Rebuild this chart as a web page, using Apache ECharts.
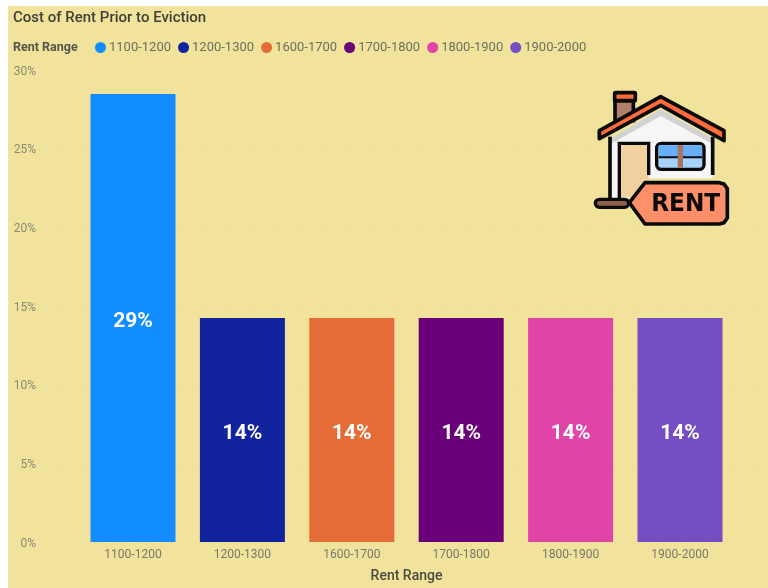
<!DOCTYPE html>
<html><head><meta charset="utf-8">
<style>html,body{margin:0;padding:0;background:#fff}#c{width:768px;height:588px}</style>
<script src="https://cdn.jsdelivr.net/npm/echarts@6/dist/echarts.min.js"></script>
</head><body><div id="c"></div>
<script>
const categories = ['1100-1200','1200-1300','1600-1700','1700-1800','1800-1900','1900-2000'];
const values = [28.57,14.29,14.29,14.29,14.29,14.29];
const colors = ['#118DFF','#12239E','#E66C37','#6B007B','#E044A7','#744EC2'];
const yTicks = [0,5,10,15,20,25,30];

const FONT = 'Roboto';
const BLK = '#0a0a0a';
const series = categories.map((c,i)=>({
  name:c, type:'bar', stack:'all', xAxisIndex:1, yAxisIndex:1, barWidth:85,
  itemStyle:{color:colors[i]},
  data:categories.map((_,j)=> j===i ? values[i] : null),
  label:{show:true, position:'inside', color:'#fff', fontFamily:FONT, fontSize:21, fontWeight:700,
    formatter:p=>Math.round(p.value)+'%', offset:[0,4]}
}));

const iconParts = [
    {type:'rect', shape:{x:135,y:92,width:55,height:60}, style:{fill:'#b0806a',stroke:BLK,lineWidth:11}},
    {type:'rect', shape:{x:134,y:68,width:62,height:24,r:3}, style:{fill:'#ff6b3d',stroke:BLK,lineWidth:11}},
    {type:'polygon', shape:{points:[[122,205],[272,118],[428,205],[428,325],[235,325],[235,385],[122,385]]}, style:{fill:'#f6f6f6'}},
    {type:'polygon', shape:{points:[[122,205],[272,118],[428,205],[428,222],[272,138],[122,222]]}, style:{fill:'#d2d2d2'}},
    {type:'rect', shape:{x:148,y:222,width:88,height:160}, style:{fill:'#f2cf9f'}},
    {type:'polyline', shape:{points:[[120,200],[120,385]]}, style:{stroke:BLK,lineWidth:11,fill:'none'}},
    {type:'polyline', shape:{points:[[428,200],[428,315]]}, style:{stroke:BLK,lineWidth:11,fill:'none'}},
    {type:'polyline', shape:{points:[[148,385],[148,220],[236,220],[236,315]]}, style:{stroke:BLK,lineWidth:10,fill:'none'}},
    {type:'rect', shape:{x:260,y:220,width:142,height:78,r:14}, style:{fill:'#a5d3fb',stroke:BLK,lineWidth:10}},
    {type:'rect', shape:{x:266,y:226,width:130,height:34}, style:{fill:'#66aef5'}},
    {type:'rect', shape:{x:266,y:259,width:130,height:6}, style:{fill:BLK}},
    {type:'rect', shape:{x:323,y:225,width:16,height:68}, style:{fill:'#a87660'}},
    {type:'polygon', shape:{points:[[88,182],[272,80],[462,182],[462,212],[272,106],[88,206]]}, style:{fill:'#ff6b3d',stroke:BLK,lineWidth:11,lineJoin:'round'}},
    {type:'rect', shape:{x:76,y:388,width:100,height:24,r:12}, style:{fill:'#8f5f4c',stroke:BLK,lineWidth:10}},
    {type:'polygon', shape:{points:[[178,398],[225,338],[448,338],[462,342],[472,356],[472,444],[462,458],[448,462],[225,462]]}, style:{fill:'#ff8f68',stroke:BLK,lineWidth:11,lineJoin:'round'}},
    {type:'text', x:347, y:404, scaleX:0.94, style:{text:'RENT', fill:BLK, font:'bold 74px "DejaVu Sans"', align:'center', verticalAlign:'middle'}}
];
iconParts.forEach(p=>{p.z=10;});
const icon = {type:'group', x:570, y:70, scaleX:1/3, scaleY:1/3, silent:true, children:iconParts};

const chart = echarts.init(document.getElementById('c'), null, {renderer:'canvas'});
chart.setOption({
  animation:false,
  backgroundColor:'#fff',
  textStyle:{fontFamily:FONT},
  title:{text:'Cost of Rent Prior to Eviction', left:8, top:6,
    textStyle:{fontFamily:FONT, fontSize:15, fontWeight:500, color:'#3f3f36'}},
  legend:{
    data:categories, left:90, top:36, icon:'circle', itemWidth:11, itemHeight:11,
    itemGap:7, selectedMode:false,
    textStyle:{fontFamily:FONT, fontSize:13, color:'#6e6e60', padding:[0,0,0,-2]}
  },
  grid:[
    {left:45, right:0, top:71.5, height:472},
    {left:78.3, width:656.4, top:71.5, height:472}
  ],
  xAxis:[
    {gridIndex:0, type:'category', show:false, data:['']},
    {gridIndex:1, type:'category', data:categories,
      axisLine:{show:false}, axisTick:{show:false},
      axisLabel:{color:'#77776a', fontSize:12, fontFamily:FONT, margin:7, interval:0},
      name:'Rent Range', nameLocation:'middle', nameGap:27,
      nameTextStyle:{color:'#4a4a40', fontSize:14, fontWeight:500, fontFamily:FONT}}
  ],
  yAxis:[
    {gridIndex:0, type:'value', min:0, max:30, interval:5,
      axisLine:{show:false}, axisTick:{show:false},
      axisLabel:{color:'#8a8a72', fontSize:12, fontFamily:FONT, margin:9, padding:[7,0,0,0],
        formatter:v=>yTicks.includes(v)? v+'%':''},
      splitLine:{show:true, lineStyle:{color:'#e2d8a0', type:[1,5], width:1.5}}},
    {gridIndex:1, type:'value', min:0, max:30, interval:5, show:false, splitLine:{show:false}}
  ],
  series:series,
  graphic:[
    {type:'rect', z:-10, silent:true, shape:{x:8,y:6,width:760,height:582}, style:{fill:'#F1E39C'}},
    {type:'text', x:13, y:41, silent:true, style:{text:'Rent Range', fill:'#55554a', font:'bold 12.5px Roboto'}},
    icon
  ]
});
</script></body></html>
